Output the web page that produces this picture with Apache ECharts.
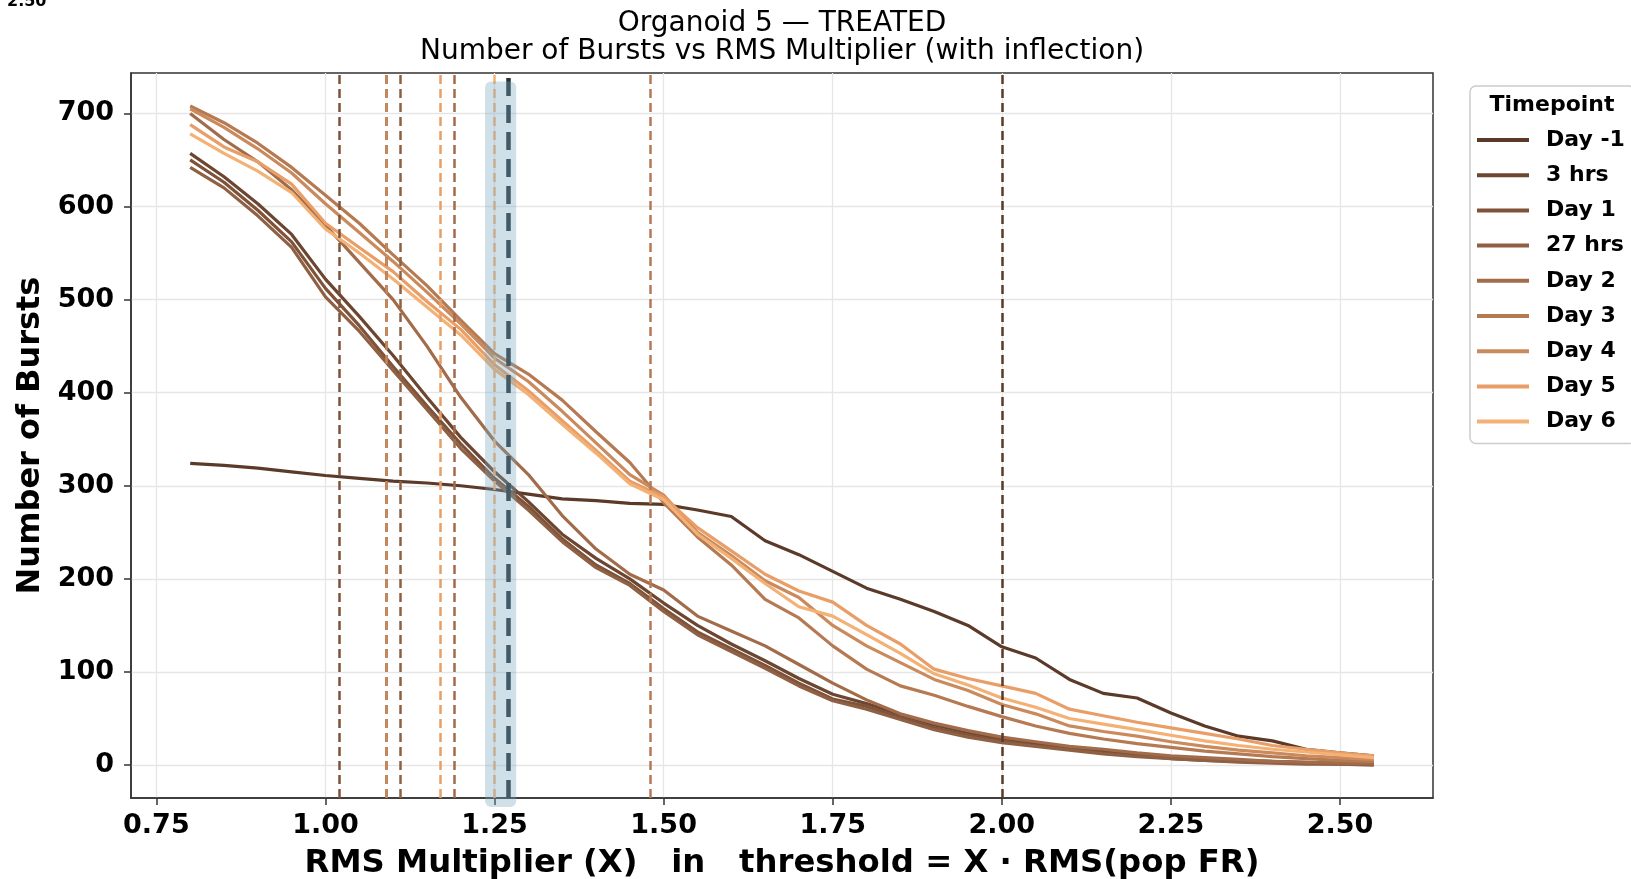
<!DOCTYPE html>
<html><head><meta charset="utf-8">
<script src="https://cdn.jsdelivr.net/npm/echarts@6/dist/echarts.min.js"></script>
<style>html,body{margin:0;padding:0;background:#fff}#c{width:1631px;height:879px}</style>
</head><body><div id="c"></div>
<script>
// ---- data ----
const xs = [0.80,0.85,0.90,0.95,1.00,1.05,1.10,1.15,1.20,1.25,1.30,1.35,1.40,1.45,1.50,1.55,1.60,1.65,1.70,1.75,1.80,1.85,1.90,1.95,2.00,2.05,2.10,2.15,2.20,2.25,2.30,2.35,2.40,2.45,2.50,2.55];
const seriesNames = ['Day -1','3 hrs','Day 1','27 hrs','Day 2','Day 3','Day 4','Day 5','Day 6'];
const dayM1 = [324,322,319,315,311,308,305,303,300,296,291,286,284,281,280,274,267,241,226,208,190,178,165,150,127,115,92,77,72,56,42,31,26,17,13,10];
const hrs3  = [657,632,603,570,522,482,440,395,352,315,283,248,222,200,174,150,130,112,93,76,66,54,43,35,28,23,19,15,11,8,6,5,4,3,2,1];
const day1  = [650,626,596,562,512,472,428,386,345,308,278,243,215,195,168,143,125,107,88,71,63,51,40,32,26,21,17,13,10,7,5,4,3,2,1,1];
const hrs27 = [642,620,590,556,503,466,424,382,340,305,274,240,212,193,165,140,122,104,85,69,60,49,38,30,24,20,16,12,9,7,5,3,2,1,1,0];
const day2  = [700,672,648,618,580,540,500,450,395,348,312,268,232,205,188,160,144,128,108,88,70,55,45,37,30,25,20,17,13,10,8,6,4,3,2,2];
const day3  = [708,690,668,642,612,582,548,515,478,442,420,392,358,325,282,245,215,178,158,128,103,85,75,63,52,42,34,28,23,19,15,12,9,7,5,4];
const day4  = [705,685,662,636,603,572,541,508,474,437,412,380,346,312,290,250,225,198,180,150,128,110,92,80,65,55,42,36,31,25,20,16,13,10,8,6];
const day5  = [688,664,648,624,582,556,530,498,468,430,402,370,338,305,288,255,230,205,187,175,150,130,103,93,85,77,60,53,46,40,34,28,21,17,13,10];
const day6  = [678,657,638,615,576,550,522,492,462,425,398,366,335,302,285,248,222,195,170,160,140,120,98,86,72,62,50,44,38,32,26,21,17,14,11,8];
const inflection = [1.996,1.092,1.023,1.108,1.187,1.483,1.087,1.169,1.250];
const bandRange = [1.236,1.282];
const xTicks = [0.75,1.00,1.25,1.50,1.75,2.00,2.25,2.50];
const yTicks = [0,100,200,300,400,500,600,700];
const colors = ['#5b3a29','#6d4631','#7e533a','#8f6043','#a26c4b','#b67a53','#cb8a5c','#e89e66','#f3b175'];
const seriesValues = [dayM1,hrs3,day1,hrs27,day2,day3,day4,day5,day6];

// ---- derived ----
const xMinD = xs[0], xMaxD = xs[xs.length-1];
const flat = [].concat(...seriesValues);
const yMinD = Math.min(...flat), yMaxD = Math.max(...flat);
const xPad = (xMaxD-xMinD)*0.05, yPad = (yMaxD-yMinD)*0.05;
const meanInfl = inflection.reduce((a,b)=>a+b,0)/inflection.length;

const FONT = "'DejaVu Sans', sans-serif";
const chart = echarts.init(document.getElementById('c'), null, {renderer:'canvas'});

const series = seriesNames.map((n,i)=>({
  type:'line', name:n, z:2,
  data: xs.map((x,j)=>[x, seriesValues[i][j]]),
  showSymbol:false, symbol:'none',
  lineStyle:{width:3.2, color:colors[i]},
  itemStyle:{color:colors[i]},
  markLine:{silent:true, symbol:'none', label:{show:false}, animation:false,
    lineStyle:{type:[9,5], width:2.5, color:colors[i]},
    data:[{xAxis: inflection[i]}]}
}));

series.push({
  type:'custom', name:'band', z:5, silent:true, clip:false,
  data:[bandRange],
  encode:{x:[0,1]},
  renderItem:(params, api)=>{
    const cs = params.coordSys;
    const a = api.coord([api.value(0), 0]);
    const b = api.coord([api.value(1), 0]);
    return {type:'rect', shape:{x:a[0], y:cs.y+8.5, width:b[0]-a[0], height:cs.height+0.5, r:6},
      style:{fill:'rgba(118,165,192,0.35)'}};
  }
});
series.push({
  type:'line', name:'mean', z:10, data:[], symbol:'none',
  markLine:{silent:true, symbol:'none', label:{show:false}, animation:false,
    lineStyle:{type:[18,9], width:4.5, color:'#263238'},
    data:[{xAxis: meanInfl}]}
});

const axisLineStyle = {color:'#333', width:1.5};
chart.setOption({
  animation:false,
  backgroundColor:'#fff',
  grid:{left:131, right:198, top:73, bottom:81, show:true, borderColor:'#333', borderWidth:1.5, backgroundColor:'transparent', outerBoundsMode:'none', containLabel:false},
  xAxis:{type:'value', min:xMinD-xPad, max:xMaxD+xPad,
    axisLine:{show:true, onZero:false, lineStyle:axisLineStyle},
    axisTick:{show:true, length:7, lineStyle:axisLineStyle, customValues:xTicks},
    axisLabel:{customValues:xTicks, formatter:v=>v.toFixed(2), margin:14, fontFamily:FONT, fontWeight:'bold', fontSize:27, color:'#000'},
    splitLine:{show:true, lineStyle:{color:'#e6e6e6', width:1.3}},
    name:'RMS Multiplier (X)   in   threshold = X · RMS(pop FR)', nameLocation:'middle', nameGap:50,
    nameTextStyle:{fontFamily:FONT, fontWeight:'bold', fontSize:32.3, color:'#000'}
  },
  yAxis:{type:'value', min:yMinD-yPad, max:yMaxD+yPad,
    axisLine:{show:true, onZero:false, lineStyle:axisLineStyle},
    axisTick:{show:true, length:7, lineStyle:axisLineStyle, customValues:yTicks},
    axisLabel:{customValues:yTicks, formatter:v=>String(Math.round(v)), margin:17, fontFamily:FONT, fontWeight:'bold', fontSize:27, color:'#000'},
    splitLine:{show:true, lineStyle:{color:'#e6e6e6', width:1.3}},
    name:'Number of Bursts', nameLocation:'middle', nameGap:84, nameRotate:90,
    nameTextStyle:{fontFamily:FONT, fontWeight:'bold', fontSize:32, color:'#000'}
  },
  legend:{data:seriesNames, orient:'vertical', left:1470, top:86, padding:[41,10,9,7],
    itemWidth:52, itemHeight:4, itemGap:9.2, icon:'rect', selectedMode:false,
    borderColor:'#cccccc', borderWidth:1.5, borderRadius:6, backgroundColor:'#fff',
    textStyle:{fontFamily:FONT, fontWeight:'bold', fontSize:22, color:'#000', lineHeight:26, padding:[0,0,0,12]}},
  graphic:[
    {type:'text', x:782, y:24, z:100, style:{text:'Organoid 5 — TREATED', font:"normal 28px 'DejaVu Sans'", fill:'#000', align:'center', verticalAlign:'middle'}},
    {type:'text', x:782, y:52, z:100, style:{text:'Number of Bursts vs RMS Multiplier (with inflection)', font:"normal 28px 'DejaVu Sans'", fill:'#000', align:'center', verticalAlign:'middle'}},
    {type:'text', x:1552, y:105, z:100, style:{text:'Timepoint', font:"bold 22px 'DejaVu Sans'", fill:'#000', align:'center', verticalAlign:'middle'}},
    {type:'text', x:7, y:2, z:100, style:{text:'2.50', font:"bold 16px 'DejaVu Sans'", fill:'#000', align:'left', verticalAlign:'middle'}}
  ],
  series: series
});
</script></body></html>
